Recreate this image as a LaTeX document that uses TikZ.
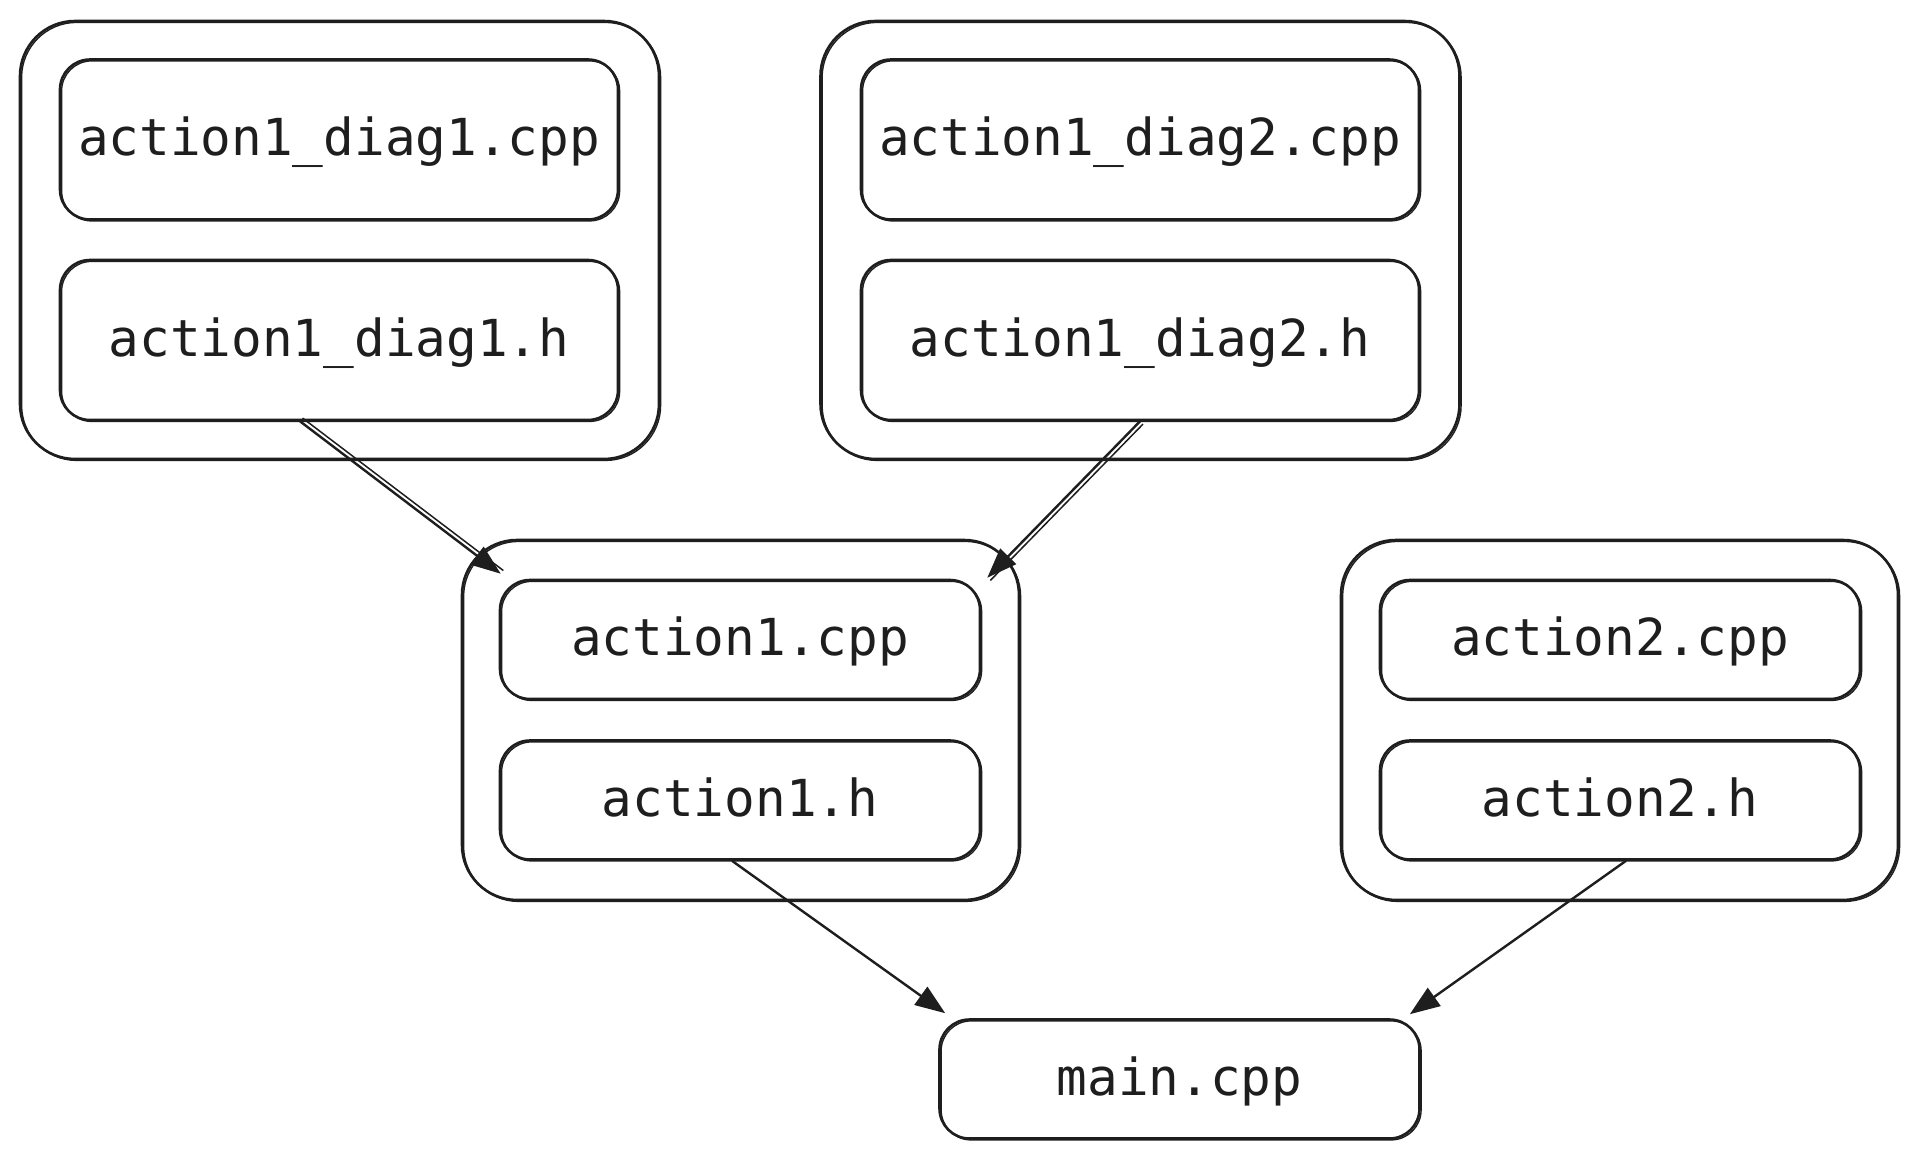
\documentclass[tikz,border=0pt]{standalone}
\usepackage{fontspec}
\setmonofont{DejaVu Sans Mono}
\usetikzlibrary{arrows.meta}
\definecolor{ink}{HTML}{1E1E1E}
\begin{document}
\begin{tikzpicture}[x=1pt,y=-1pt,
  sk/.style={draw=ink, line width=2.6pt,
    preaction={draw=ink, line width=1.4pt, transform canvas={xshift=1.6pt,yshift=-1.4pt}}},
  filebox/.style={sk, rounded corners=30pt, minimum width=558pt, minimum height=160pt,
    inner sep=0pt, font=\ttfamily\fontsize{51}{60}\selectfont, text=ink,
    text height=40pt, text depth=8pt},
  smallbox/.style={filebox, minimum width=480pt, minimum height=119pt},
  grp/.style={sk, rounded corners=55pt, inner sep=0pt},
  arr/.style={draw=ink, line width=2.4pt, -{Triangle[length=30pt,width=22pt]}},
  arrd/.style={arr, preaction={draw=ink, line width=1.5pt, -, transform canvas={#1}}}]
\fill[white] (0,0) rectangle (1920,1160);
\useasboundingbox (0,0) rectangle (1920,1160);

% groups
\node[grp, minimum width=639pt, minimum height=438pt] (g1) at (339.5,240) {};
\node[grp, minimum width=639pt, minimum height=438pt] (g2) at (1140,240) {};
\node[grp, minimum width=557pt, minimum height=360pt] (g3) at (740.5,720) {};
\node[grp, minimum width=557pt, minimum height=360pt] (g4) at (1619.5,720) {};

% files
\node[filebox] (d1c) at (339,139.5) {action1\_diag1.cpp};
\node[filebox] (d1h) at (339,340) {action1\_diag1.h};
\node[filebox] (d2c) at (1140,139.5) {action1\_diag2.cpp};
\node[filebox] (d2h) at (1140,340) {action1\_diag2.h};
\node[smallbox] (a1c) at (740,639.5) {action1.cpp};
\node[smallbox] (a1h) at (740,800) {action1.h};
\node[smallbox] (a2c) at (1620,639.5) {action2.cpp};
\node[smallbox] (a2h) at (1620,800) {action2.h};
\node[smallbox] (main) at (1179.5,1079) {main.cpp};

% connectors
\draw[arrd={xshift=2.6pt,yshift=3.2pt}] ([xshift=-39pt]d1h.south) -- ([xshift=2pt,yshift=5pt]a1c.north west);
\draw[arrd={xshift=3pt,yshift=-2.8pt}] (d2h.south) -- ([xshift=6pt,yshift=1pt]a1c.north east);
\draw[arr] ([xshift=-8pt]a1h.south) -- ([xshift=7pt,yshift=5pt]main.north west);
\draw[arr] ([xshift=6pt]a2h.south) -- ([xshift=-11pt,yshift=4pt]main.north east);
\end{tikzpicture}
\end{document}
